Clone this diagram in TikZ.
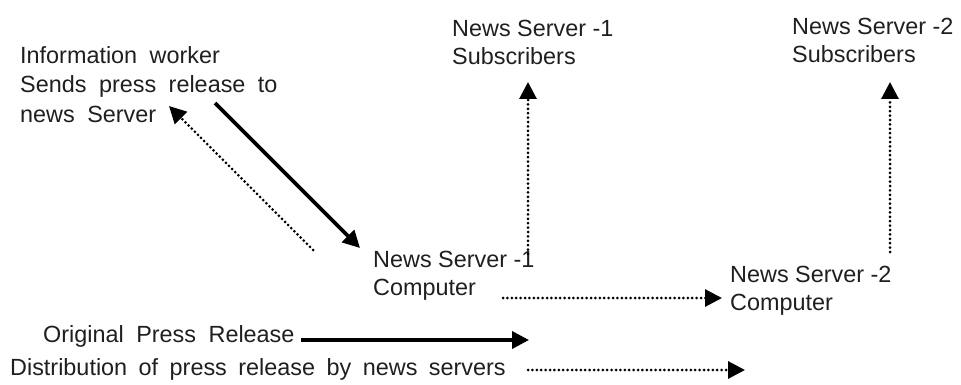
\documentclass[tikz,border=0pt]{standalone}
\usepackage{fontspec}
\setmainfont{Liberation Sans}
\usetikzlibrary{arrows.meta}
\newcommand\widespacing{\spaceskip=12.5pt\relax}
\newcommand\midspacing{\spaceskip=11.5pt\relax}
\begin{document}
\begin{tikzpicture}[x=1pt,y=-1pt,
  lbl/.style={inner sep=0pt,align=left,font=\fontsize{23.4}{28}\selectfont,text=black!88},
  widelbl/.style={lbl,font=\fontsize{23.4}{29.5}\selectfont,execute at begin node=\widespacing},
  midlbl/.style={lbl,execute at begin node=\midspacing},
  tip/.style={-{Triangle[length=17pt,width=17pt]}},
  solidarrow/.style={tip,line width=3.6pt},
  dotarrow/.style={tip,line width=3pt,line cap=round,dash pattern=on 0pt off 4.4pt}]
\useasboundingbox (0,0) rectangle (961,385);
\node[widelbl,anchor=north west] (info) at (20,46) {Information worker\\Sends press release to\\news Server};
\node[lbl,anchor=north west] (nsonesub) at (452,20) {News Server -1\\Subscribers};
\node[lbl,anchor=north west] (nstwosub) at (792,18) {News Server -2\\Subscribers};
\node[lbl,anchor=north west] (nsonecomp) at (373,251) {News Server -1\\Computer};
\node[lbl,anchor=north west] (nstwocomp) at (730,266) {News Server -2\\Computer};
\node[widelbl,anchor=base west] (legone) at (43,342) {Original Press Release};
\node[midlbl,anchor=base west] (legtwo) at (10,375) {Distribution of press release by news servers};
% endpoints
\coordinate (a1) at (215,103); \coordinate (a2) at (360,248);
\coordinate (b1) at (313,250); \coordinate (b2) at (169,106);
\coordinate (c1) at (528,254); \coordinate (c2) at (528,82);
\coordinate (d1) at (890,252); \coordinate (d2) at (890,82);
\coordinate (e1) at (503,298); \coordinate (e2) at (722,298);
\coordinate (f1) at (301,340); \coordinate (f2) at (529,340);
\coordinate (g1) at (528,370); \coordinate (g2) at (745,370);
\draw[solidarrow] (a1) -- (a2);
\draw[dotarrow] (b1) -- (b2);
\draw[dotarrow] (c1) -- (c2);
\draw[dotarrow] (d1) -- (d2);
\draw[dotarrow] (e1) -- (e2);
\draw[solidarrow] (f1) -- (f2);
\draw[dotarrow] (g1) -- (g2);
\end{tikzpicture}
\end{document}
